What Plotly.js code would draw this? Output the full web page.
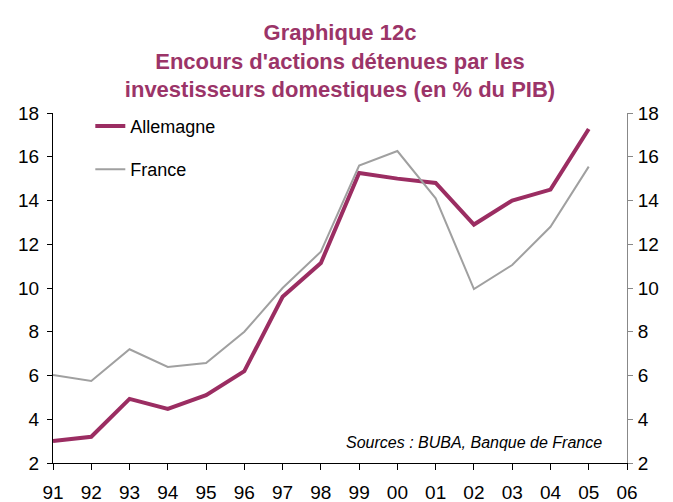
<!DOCTYPE html>
<html><head><meta charset="utf-8">
<script src="https://cdn.plot.ly/plotly-3.0.1.min.js"></script>
<style>html,body{margin:0;padding:0;background:#fff}#chart{width:673px;height:502px}</style>
</head><body><div id="chart"></div>
<script>
var years = ['91','92','93','94','95','96','97','98','99','00','01','02','03','04','05'];
var tickYears = ['91','92','93','94','95','96','97','98','99','00','01','02','03','04','05','06'];
var allemagne = [3.0, 3.2, 4.93, 4.47, 5.1, 6.2, 9.6, 11.14, 15.26, 15.0, 14.8, 12.9, 14.0, 14.5, 17.27];
var france = [6.02, 5.75, 7.2, 6.39, 6.57, 8.0, 10.0, 11.66, 15.6, 16.26, 14.1, 9.95, 11.05, 12.8, 15.55];
var yTicks = [2,4,6,8,10,12,14,16,18];

var FONT = 'Liberation Sans, Arial, sans-serif';
var xIdx = tickYears.map(function(_, i){ return i; });
function idx(arr){ return arr.map(function(y){ return tickYears.indexOf(y); }); }

var traces = [
  {x: idx(years), y: allemagne, name: 'Allemagne', legendgroup: 'a', type: 'scatter', mode: 'lines',
   line: {color: '#9b2d62', width: 4}},
  {x: idx(years), y: france, name: 'France', legendgroup: 'f', type: 'scatter', mode: 'lines',
   line: {color: '#a0a0a0', width: 2}},
  {x: idx(years), y: france, yaxis: 'y2', type: 'scatter', mode: 'lines',
   showlegend: false, hoverinfo: 'skip', line: {color: 'rgba(0,0,0,0)', width: 0}}
];

var layout = {
  width: 673, height: 502,
  margin: {l: 53, r: 46, t: 113, b: 39},
  paper_bgcolor: '#fff', plot_bgcolor: '#fff',
  font: {family: FONT, size: 18, color: '#000'},
  title: {text: 'Graphique 12c<br>Encours d\'actions détenues par les<br>investisseurs domestiques (en % du PIB)',
    font: {family: FONT, size: 22, color: '#9b3468', weight: 'bold'},
    x: 0.5, xref: 'paper', xanchor: 'center', y: 0.92, yref: 'container', yanchor: 'middle'},
  xaxis: {range: [0, 15], tickmode: 'array', tickvals: xIdx, ticktext: tickYears,
    showgrid: false, zeroline: false, showline: true, linecolor: '#000', linewidth: 1,
    ticks: 'outside', ticklen: 6, tickcolor: '#000', ticklabelstandoff: 6,
    tickfont: {family: FONT, size: 19}},
  yaxis: {range: [2, 18], tickmode: 'array', tickvals: yTicks,
    showgrid: false, zeroline: false, showline: true, linecolor: '#000', linewidth: 1,
    ticks: 'outside', ticklen: 5, tickcolor: '#000', ticklabelstandoff: 4,
    tickfont: {family: FONT, size: 19}},
  yaxis2: {range: [2, 18], tickmode: 'array', tickvals: yTicks, overlaying: 'y', side: 'right',
    showgrid: false, zeroline: false, showline: true, linecolor: '#888', linewidth: 1,
    ticks: 'outside', ticklen: 5, tickcolor: '#888', ticklabelstandoff: 1,
    tickfont: {family: FONT, size: 19}},
  legend: {x: 0.065, y: 1.015, xanchor: 'left', yanchor: 'top', bgcolor: 'rgba(0,0,0,0)',
    font: {family: FONT, size: 18}, tracegroupgap: 17, traceorder: 'grouped'},
  showlegend: true,
  annotations: [{text: '<i>Sources : BUBA, Banque de France</i>', xref: 'paper', yref: 'paper',
    x: 0.96, y: 0.06, xanchor: 'right', yanchor: 'middle', showarrow: false,
    font: {family: FONT, size: 16, color: '#000'}}]
};

Plotly.newPlot('chart', traces, layout, {displayModeBar: false, staticPlot: true});
</script></body></html>
